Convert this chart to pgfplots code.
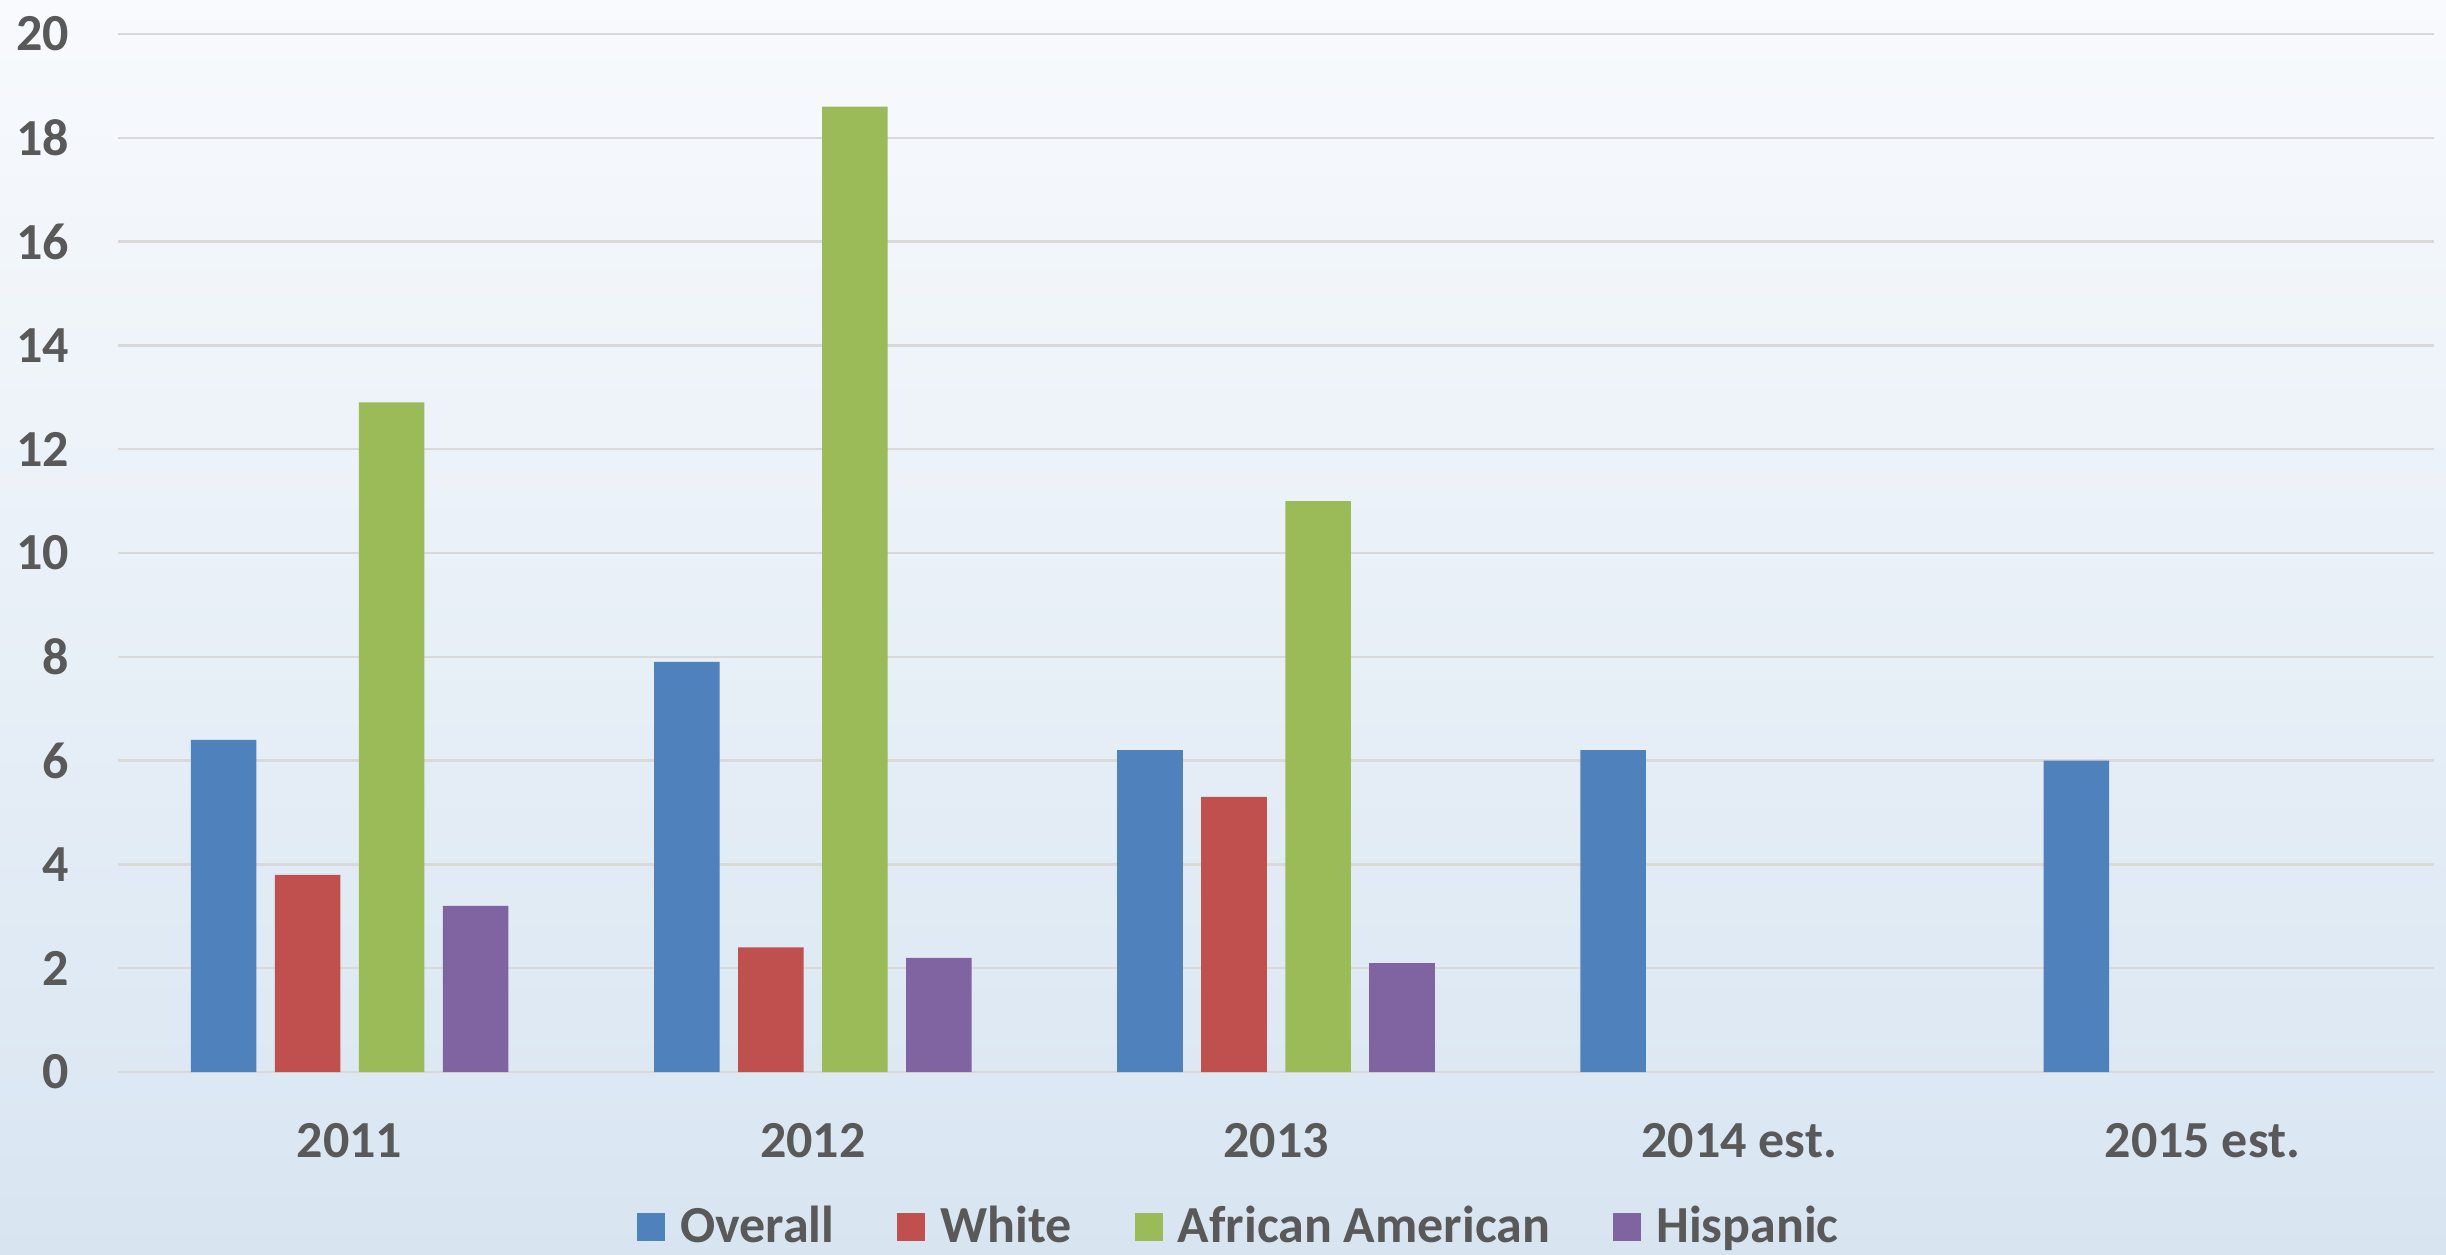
\documentclass[border=0pt]{standalone}
\usepackage{pgfplots}
\pgfplotsset{compat=1.18}
\usepackage{fontspec}
\setmainfont{Carlito}
\definecolor{cBlue}{HTML}{4F81BD}
\definecolor{cRed}{HTML}{C0504D}
\definecolor{cGreen}{HTML}{9BBB59}
\definecolor{cPurple}{HTML}{8064A2}
\definecolor{bgTop}{HTML}{F8FAFD}
\definecolor{bgBot}{HTML}{D8E5F1}
\definecolor{txt}{HTML}{595959}
\definecolor{grd}{HTML}{D9D9D9}
\begin{document}
\begin{tikzpicture}
\shade[top color=bgTop, bottom color=bgBot] (0,0) rectangle (24.46,12.54);
\begin{axis}[
  at={(1.18cm,1.82cm)}, anchor=south west,
  scale only axis, width=23.16cm, height=10.38cm,
  xmin=-0.5, xmax=4.5, ymin=0, ymax=20,
  axis line style={draw=none},
  major tick length=0pt,
  ymajorgrids, grid style={grd, line width=0.7pt},
  ytick={0,2,...,20},
  xtick={0,1,2,3,4},
  xticklabels={2011,2012,2013,2014 est.,2015 est.},
  /pgf/number format/assume math mode=true,
  ticklabel style={font=\fontsize{14.8}{17}\selectfont\bfseries, text=txt},
  yticklabel style={anchor=east, inner xsep=0pt, xshift=-0.48cm},
  xticklabel style={anchor=center, inner sep=0pt, yshift=-0.69cm},
  legend columns=4,
  legend cell align=left,
  legend style={at={(axis description cs:0.4836,-0.149)}, anchor=center,
    draw=none, fill=none, font=\fontsize{14.8}{17}\selectfont\bfseries, text=txt,
    nodes={inner xsep=0pt, inner ysep=0pt},
    /tikz/every odd column/.append style={column sep=0.15cm},
    /tikz/every even column/.append style={column sep=0.63cm}},
]
\addplot[ybar, fill=cBlue, draw=none, bar width=0.1415, bar shift=-0.272,
  legend image code/.code={\fill[cBlue] (0cm,-0.14cm) rectangle (0.28cm,0.14cm);}]
  coordinates {(0,6.4) (1,7.9) (2,6.2) (3,6.2) (4,6.0)};
\addlegendentry{Overall}
\addplot[ybar, fill=cRed, draw=none, bar width=0.1415, bar shift=-0.0907,
  legend image code/.code={\fill[cRed] (0cm,-0.14cm) rectangle (0.28cm,0.14cm);}]
  coordinates {(0,3.8) (1,2.4) (2,5.3)};
\addlegendentry{White}
\addplot[ybar, fill=cGreen, draw=none, bar width=0.1415, bar shift=0.0907,
  legend image code/.code={\fill[cGreen] (0cm,-0.14cm) rectangle (0.28cm,0.14cm);}]
  coordinates {(0,12.9) (1,18.6) (2,11.0)};
\addlegendentry{African American}
\addplot[ybar, fill=cPurple, draw=none, bar width=0.1415, bar shift=0.272,
  legend image code/.code={\fill[cPurple] (0cm,-0.14cm) rectangle (0.28cm,0.14cm);}]
  coordinates {(0,3.2) (1,2.2) (2,2.1)};
\addlegendentry{Hispanic}
\end{axis}
\end{tikzpicture}
\end{document}
